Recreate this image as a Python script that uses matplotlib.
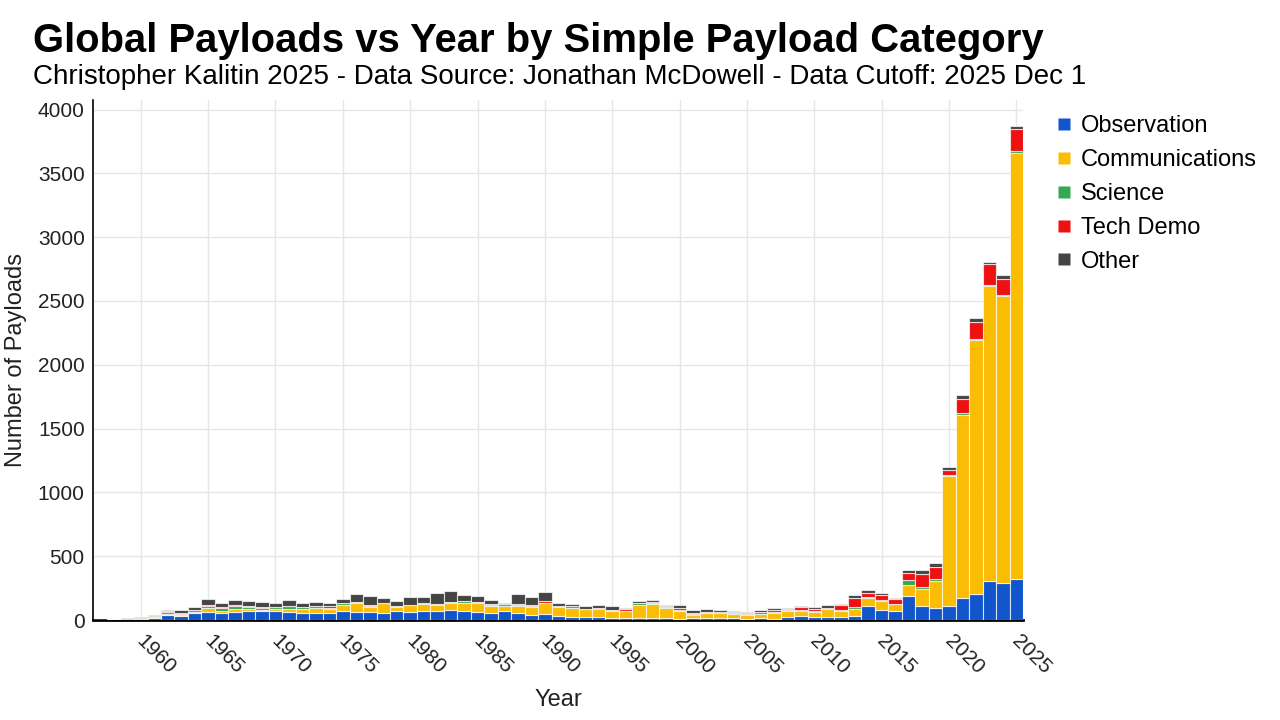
import matplotlib
matplotlib.use("Agg")
import matplotlib.pyplot as plt
from matplotlib.lines import Line2D
from matplotlib.transforms import ScaledTranslation
import numpy as np

plt.rcParams['font.family'] = ['Liberation Sans', 'DejaVu Sans']

years = list(range(1957, 2026))

observation = [0, 0, 2, 8, 18, 42, 34, 52, 60, 57, 65, 68, 68, 68, 60, 57, 57, 57, 73, 65,
               65, 57, 68, 60, 68, 70, 76, 68, 60, 57, 68, 57, 42, 50, 31, 26, 26, 26, 18, 18,
               18, 13, 18, 10, 13, 18, 13, 16, 10, 18, 10, 26, 29, 21, 26, 21, 29, 107, 76, 73,
               190, 112, 97, 112, 175, 206, 303, 287, 324]
communications = [0, 0, 0, 0, 3, 3, 3, 13, 37, 13, 21, 16, 10, 18, 29, 31, 39, 31, 47, 65,
                  39, 73, 34, 55, 60, 48, 57, 63, 71, 55, 44, 55, 62, 81, 73, 71, 60, 58, 50, 50,
                  102, 115, 79, 58, 29, 39, 39, 34, 32, 32, 47, 47, 44, 44, 58, 52, 60, 68, 70, 50,
                  84, 133, 211, 1019, 1432, 1991, 2312, 2250, 3338]
science = [2, 5, 6, 5, 10, 20, 10, 13, 13, 21, 26, 21, 16, 13, 21, 13, 13, 8, 10, 8,
           8, 5, 5, 3, 8, 7, 5, 15, 13, 8, 10, 6, 6, 5, 3, 13, 3, 5, 8, 6,
           11, 5, 8, 10, 8, 5, 6, 6, 8, 10, 6, 8, 3, 5, 5, 3, 10, 5, 8, 5,
           42, 11, 13, 5, 13, 8, 10, 10, 16]
tech_demo = [0, 0, 0, 0, 3, 5, 8, 3, 10, 13, 8, 8, 5, 5, 0, 3, 3, 13, 5, 0,
             8, 0, 0, 0, 0, 0, 0, 0, 0, 8, 6, 5, 5, 10, 0, 0, 0, 8, 0, 10,
             0, 8, 5, 16, 7, 3, 7, 7, 7, 0, 13, 5, 24, 14, 8, 39, 76, 34, 39, 34,
             55, 107, 94, 42, 115, 133, 161, 124, 167]
other = [0, 3, 6, 8, 8, 11, 23, 23, 44, 32, 37, 39, 45, 29, 49, 32, 29, 24, 29, 66,
         65, 37, 44, 62, 41, 89, 92, 47, 44, 29, 5, 81, 62, 73, 26, 15, 18, 20, 36, 10,
         15, 13, 10, 21, 19, 21, 11, 5, 6, 18, 18, 8, 10, 18, 18, 10, 23, 18, 18, 10,
         21, 31, 29, 21, 26, 29, 20, 35, 26]

series_names = ["Observation", "Communications", "Science", "Tech Demo", "Other"]
series_values = [observation, communications, science, tech_demo, other]
series_colors = ["#1155CC", "#FBBC04", "#34A853", "#EE1111", "#444444"]

fig = plt.figure(figsize=(12.8, 7.2), dpi=100)
ax = fig.add_axes([93/1280, 1 - 620/720, (1023 - 93)/1280, (620 - 100)/720])

bottom = np.zeros(len(years))
for name, vals, col in zip(series_names, series_values, series_colors):
    v = np.array(vals, dtype=float)
    ax.bar(years, v, width=1.0, bottom=bottom, color=col,
           edgecolor=(1, 1, 1, 0.7), linewidth=0.8, label=name, zorder=3)
    bottom += v

ax.set_xlim(1956.45, 2025.5)
ax.set_ylim(0, 4075)
ax.set_xticks(list(range(1960, 2026, 5)))
ax.set_yticks(list(range(0, 4001, 500)))
ax.tick_params(axis='x', length=0, pad=8, labelsize=15, colors='#222222')
ax.tick_params(axis='y', length=0, pad=6, labelsize=15, colors='#222222')
offset = ScaledTranslation(-8/100, 0, fig.dpi_scale_trans)
for lab in ax.get_xticklabels():
    lab.set_rotation(-45)
    lab.set_ha('left')
    lab.set_va('top')
    lab.set_transform(lab.get_transform() + offset)
ax.grid(True, color='#e6e6e6', linewidth=1, zorder=0)
ax.set_axisbelow(True)
for s in ['top', 'right']:
    ax.spines[s].set_visible(False)
ax.spines['left'].set_color('black')
ax.spines['left'].set_linewidth(1.2)
ax.spines['bottom'].set_color('black')
ax.spines['bottom'].set_linewidth(2)

ax.set_xlabel("Year", fontsize=17, color='#222222', labelpad=8)
ax.set_ylabel("Number of Payloads", fontsize=17, color='#222222', labelpad=8)

fig.text(33/1280, 1 - 52/720, "Global Payloads vs Year by Simple Payload Category",
         fontsize=28.8, fontweight='bold', color='black', ha='left', va='baseline')
fig.text(33/1280, 1 - 84/720,
         "Christopher Kalitin 2025 - Data Source: Jonathan McDowell - Data Cutoff: 2025 Dec 1",
         fontsize=20, color='black', ha='left', va='baseline')

handles = [Line2D([0], [0], marker='s', linestyle='none', markersize=9,
                  markerfacecolor=c, markeredgecolor='none') for c in series_colors]
fig.legend(handles, series_names, loc='upper left', bbox_to_anchor=(1043/1280, 1 - 106/720),
           frameon=False, fontsize=17, handletextpad=0.2, labelspacing=0.5,
           handlelength=1.0, borderaxespad=0)

fig.savefig("out.png", dpi=100)
